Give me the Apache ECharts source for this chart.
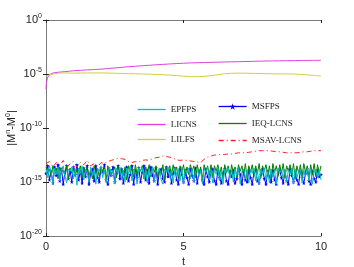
<!DOCTYPE html>
<html><head><meta charset="utf-8">
<script src="https://cdn.jsdelivr.net/npm/echarts@6/dist/echarts.min.js"></script>
<style>html,body{margin:0;padding:0;background:#fff}#c{width:354px;height:267px}</style>
</head><body><div id="c"></div>
<script>
// sample times for the dense noisy series
const tDense = [0,0.0625,0.125,0.1875,0.25,0.3125,0.375,0.4375,0.5,0.5625,0.625,0.6875,0.75,0.8125,0.875,0.9375,
1,1.0625,1.125,1.1875,1.25,1.3125,1.375,1.4375,1.5,1.5625,1.625,1.6875,1.75,1.8125,1.875,1.9375,
2,2.0625,2.125,2.1875,2.25,2.3125,2.375,2.4375,2.5,2.5625,2.625,2.6875,2.75,2.8125,2.875,2.9375,
3,3.0625,3.125,3.1875,3.25,3.3125,3.375,3.4375,3.5,3.5625,3.625,3.6875,3.75,3.8125,3.875,3.9375,
4,4.0625,4.125,4.1875,4.25,4.3125,4.375,4.4375,4.5,4.5625,4.625,4.6875,4.75,4.8125,4.875,4.9375,
5,5.0625,5.125,5.1875,5.25,5.3125,5.375,5.4375,5.5,5.5625,5.625,5.6875,5.75,5.8125,5.875,5.9375,
6,6.0625,6.125,6.1875,6.25,6.3125,6.375,6.4375,6.5,6.5625,6.625,6.6875,6.75,6.8125,6.875,6.9375,
7,7.0625,7.125,7.1875,7.25,7.3125,7.375,7.4375,7.5,7.5625,7.625,7.6875,7.75,7.8125,7.875,7.9375,
8,8.0625,8.125,8.1875,8.25,8.3125,8.375,8.4375,8.5,8.5625,8.625,8.6875,8.75,8.8125,8.875,8.9375,
9,9.0625,9.125,9.1875,9.25,9.3125,9.375,9.4375,9.5,9.5625,9.625,9.6875,9.75,9.8125,9.875,9.9375,10];
// sample times for the dash-dot series
const tNoise = [0,0.125,0.25,0.375,0.5,0.625,0.75,0.875,1,1.125,1.25,1.375,1.5,1.625,1.75,1.875,2,2.125,2.25,2.375,2.5,2.625,2.75,2.875,3,3.125,3.25,3.375,3.5,3.625,3.75,3.875,4,4.125,4.25,4.375,4.5,4.625,4.75,4.875,5,5.125,5.25,5.375,5.5,5.625,5.75,5.875,6,6.125,6.25,6.375,6.5,6.625,6.75,6.875,7,7.125,7.25,7.375,7.5,7.625,7.75,7.875,8,8.125,8.25,8.375,8.5,8.625,8.75,8.875,9,9.125,9.25,9.375,9.5,9.625,9.75,9.875,10];
// exponents (log10) of |M^n - M^0|
const msfpsExp = [
-14.2,-13.5,-14.8,-14.0,-15.1,-13.6,-14.4,-13.4,-14.9,-13.8,-15.2,-14.1,-13.5,-14.7,-13.9,-15.0,-13.6,-14.3,-13.4,-14.8,
-14.0,-15.1,-13.7,-14.5,-13.5,-15.2,-14.2,-13.8,-14.9,-13.5,-14.6,-15.0,-13.7,-14.1,-13.4,-14.8,-15.2,-13.9,-14.4,-13.6,
-15.0,-14.2,-13.5,-14.7,-13.8,-15.1,-14.0,-13.6,-14.9,-14.3,-13.5,-15.2,-13.9,-14.6,-13.7,-15.0,-14.1,-13.5,-14.8,-13.9,
-15.1,-13.6,-14.4,-14.9,-13.7,-15.2,-14.0,-13.8,-14.7,-15.0,-13.6,-14.5,-13.9,-15.1,-14.2,-13.7,-14.8,-15.2,-13.8,-14.3,
-15.0,-13.9,-14.6,-15.2,-13.8,-14.4,-14.9,-13.7,-15.1,-14.1,-13.9,-14.8,-15.2,-13.8,-14.5,-15.0,-14.0,-13.8,-14.9,-15.2,
-13.9,-14.6,-15.1,-14.2,-13.8,-14.9,-15.2,-14.0,-14.5,-13.9,-15.1,-14.7,-13.8,-14.3,-15.2,-14.0,-14.8,-15.0,-13.9,-14.6,
-15.2,-14.1,-13.9,-14.9,-15.1,-14.3,-13.8,-14.7,-15.2,-14.0,-14.5,-15.0,-13.9,-14.8,-15.2,-14.2,-13.9,-14.6,-15.1,-14.0,
-14.9,-15.2,-13.8,-14.4,-15.0,-14.1,-14.8,-15.2,-13.9,-14.6,-15.1,-14.2,-13.8,-14.9,-15.2,-14.0,-14.7,-15.0,-13.9,-14.5,
-14.3];
const epfpsExp = [
-13.8,-14.6,-13.5,-14.1,-15.2,-13.7,-14.3,-13.6,-14.9,-13.9,-13.5,-14.4,-15.1,-13.8,-14.0,-13.6,-14.7,-13.9,-15.3,-13.7,
-14.2,-13.5,-14.8,-13.8,-14.1,-15.0,-13.6,-14.4,-13.9,-15.2,-13.7,-14.0,-13.5,-14.6,-13.8,-15.1,-14.2,-13.6,-14.5,-13.9,
-15.2,-13.7,-14.1,-13.6,-14.8,-13.9,-15.0,-13.7,-14.3,-13.5,-14.9,-13.8,-14.2,-15.2,-13.7,-14.0,-13.6,-14.7,-13.9,-15.1,
-13.8,-14.4,-13.6,-15.0,-13.9,-14.2,-13.7,-14.8,-15.2,-13.8,-14.1,-13.6,-14.6,-13.9,-15.1,-13.7,-14.3,-13.8,-14.9,-13.6,
-15.2,-13.9,-14.2,-13.7,-14.7,-13.8,-15.0,-14.0,-13.7,-14.5,-13.9,-15.2,-13.8,-14.1,-13.6,-14.8,-13.9,-15.1,-13.8,-14.3,
-13.7,-14.9,-13.9,-15.2,-13.8,-14.2,-13.7,-14.6,-13.9,-15.0,-13.8,-14.4,-13.7,-15.2,-14.0,-13.8,-14.7,-13.9,-15.1,-13.8,
-14.2,-13.7,-14.9,-13.9,-15.2,-13.8,-14.3,-13.7,-14.8,-14.0,-15.1,-13.8,-14.5,-13.9,-15.2,-13.7,-14.1,-13.9,-14.7,-13.8,
-15.0,-13.9,-14.3,-13.7,-15.2,-13.8,-14.6,-14.0,-13.8,-15.1,-13.9,-14.4,-13.7,-14.9,-13.8,-15.2,-14.1,-13.8,-14.6,-13.9,
-14.8];
const ieqExp = [
-13.6,-14.2,-13.8,-14.5,-13.5,-14.0,-13.7,-14.7,-13.6,-14.1,-13.9,-14.4,-13.5,-14.8,-13.7,-14.2,-13.6,-14.5,-13.8,-14.0,
-13.5,-14.6,-13.7,-14.1,-13.6,-14.4,-13.9,-14.7,-13.5,-14.2,-13.8,-14.5,-13.6,-14.0,-13.7,-14.8,-13.5,-14.3,-13.8,-14.1,
-13.6,-14.6,-13.5,-14.2,-13.7,-14.4,-13.6,-14.8,-13.5,-14.1,-13.7,-14.5,-13.4,-14.3,-13.6,-14.0,-13.5,-14.7,-13.6,-14.2,
-13.4,-14.5,-13.6,-14.1,-13.5,-14.6,-13.7,-14.3,-13.4,-14.8,-13.6,-14.0,-13.5,-14.4,-13.4,-14.2,-13.6,-14.7,-13.5,-14.1,
-13.4,-14.5,-13.6,-14.3,-13.4,-14.0,-13.5,-14.6,-13.4,-14.2,-13.6,-14.8,-13.4,-14.1,-13.5,-14.4,-13.4,-14.6,-13.5,-14.0,
-13.4,-14.3,-13.6,-14.7,-13.4,-14.1,-13.5,-14.5,-13.4,-14.2,-13.6,-14.6,-13.4,-14.0,-13.5,-14.4,-13.3,-14.7,-13.5,-14.1,
-13.4,-14.5,-13.5,-14.2,-13.3,-14.6,-13.5,-14.0,-13.4,-14.4,-13.5,-14.7,-13.3,-14.1,-13.5,-14.5,-13.4,-14.2,-13.3,-14.6,
-13.5,-14.0,-13.4,-14.4,-13.3,-14.7,-13.5,-14.2,-13.4,-14.5,-13.3,-14.1,-13.5,-14.6,-13.4,-14.3,-13.3,-14.5,-13.4,-14.2,
-13.5];
const msavExp = [-13.3,-13.1,-13.6,-13.2,-13.5,-13.0,-13.7,-13.3,-13.1,-13.6,
-13.2,-13.4,-13.0,-13.5,-13.3,-13.6,-13.2,-13.3,-13.1,-13.0,
-12.9,-12.8,-12.85,-12.9,-13.1,-13.2,-13.1,-13.15,-13.0,-12.95,
-13.0,-12.85,-12.75,-12.7,-12.6,-12.65,-12.7,-12.8,-12.95,-13.0,
-12.95,-13.0,-13.05,-13.1,-13.15,-13.2,-12.9,-12.7,-12.6,-12.5,
-12.5,-12.45,-12.45,-12.4,-12.4,-12.35,-12.3,-12.3,-12.3,-12.25,
-12.2,-12.15,-12.1,-12.1,-12.1,-12.1,-12.15,-12.2,-12.2,-12.25,
-12.3,-12.3,-12.3,-12.3,-12.25,-12.2,-12.2,-12.15,-12.1,-12.1,-12.1];
// smooth series
const tLicns = [0,0.01,0.02,0.05,0.1,0.2,0.4,0.7,1,1.5,2,3,4,5,6,7,8,9,10];
const licnsExp = [-6.4,-6.0,-5.8,-5.4,-5.15,-4.95,-4.85,-4.78,-4.7,-4.62,-4.55,-4.33,-4.15,-4.0,-3.92,-3.86,-3.8,-3.76,-3.73];
const tLilfs = [0,0.3,0.6,1,1.5,2,2.5,3,3.5,4,4.5,5,5.5,6,6.5,7,7.5,8,8.5,9,9.5,10];
const lilfsExp = [-5.2,-4.98,-4.9,-4.92,-4.9,-4.9,-4.93,-4.97,-5.0,-5.04,-5.1,-5.2,-5.25,-5.15,-4.98,-4.92,-4.94,-4.97,-4.99,-5.0,-5.08,-5.19];

function pairs(ts, es){ return ts.map((t,i)=>[t, Math.pow(10, es[i])]); }

const star = 'path://M0,-10L2.2,-3L9.5,-3L3.6,1.2L5.9,8.1L0,3.8L-5.9,8.1L-3.6,1.2L-9.5,-3L-2.2,-3Z';
const axisCol = '#7a7a7a';
const serifText = {fontFamily:'Liberation Serif', fontSize:9, color:'#222'};
const noSym = {opacity:0};
const legLine = {width:1.3};

const chart = echarts.init(document.getElementById('c'));
chart.setOption({
  animation:false,
  backgroundColor:'#fff',
  grid:{left:46, right:33, top:20, bottom:31, outerBoundsMode:'none', containLabel:false},
  legend:[
    {data:[{name:'EPFPS', itemStyle:noSym},{name:'LICNS', itemStyle:noSym},{name:'LILFS', itemStyle:noSym}],
     orient:'vertical', left:137, top:105, itemWidth:28, itemHeight:8, itemGap:6, textStyle:serifText, padding:0, lineStyle:legLine},
    {data:['MSFPS',{name:'IEQ-LCNS', itemStyle:noSym},{name:'MSAV-LCNS', itemStyle:noSym}],
     orient:'vertical', left:218, top:102, itemWidth:28, itemHeight:8, itemGap:8, textStyle:serifText, padding:0, lineStyle:legLine}
  ],
  xAxis:[
    {type:'value', min:0, max:10, interval:5, name:'t', nameLocation:'middle', nameGap:19,
     nameTextStyle:{fontFamily:'Liberation Sans', fontSize:11, color:'#222'},
     axisLine:{lineStyle:{color:axisCol}}, axisTick:{inside:true, length:3, lineStyle:{color:'#222'}},
     axisLabel:{fontFamily:'Liberation Sans', fontSize:11, color:'#222', margin:5}, splitLine:{show:false}},
    {type:'value', position:'top', min:0, max:10, interval:5,
     axisLine:{show:true, lineStyle:{color:axisCol}}, axisTick:{inside:true, length:3, lineStyle:{color:'#222'}},
     axisLabel:{show:false}, splitLine:{show:false}}
  ],
  yAxis:[
    {type:'log', logBase:10, min:1e-20, max:1, interval:5,
     name:'|M{s|n}-M{s|0}|', nameLocation:'middle', nameGap:27, nameMoveOverlap:false,
     nameTextStyle:{fontFamily:'Liberation Sans', fontSize:11, color:'#222', rich:{s:{fontSize:7, verticalAlign:'bottom', padding:[0,0,7,0], fontFamily:'Liberation Sans', color:'#222'}}},
     axisLine:{show:true, lineStyle:{color:axisCol}}, axisTick:{inside:true, length:3, lineStyle:{color:'#222'}},
     splitLine:{show:false},
     axisLabel:{margin:4, formatter:function(v){ return '{b|10}{s|'+Math.round(Math.log10(v))+'}'; },
       rich:{b:{fontFamily:'Liberation Sans', fontSize:11, color:'#222'}, s:{fontFamily:'Liberation Sans', fontSize:7, color:'#222', verticalAlign:'bottom', padding:[0,0,8,0]}}}},
    {type:'log', logBase:10, min:1e-20, max:1, interval:5, position:'right',
     axisLine:{show:true, lineStyle:{color:axisCol}}, axisTick:{inside:true, length:3, lineStyle:{color:'#222'}},
     axisLabel:{show:false}, splitLine:{show:false}}
  ],
  series:[
    {name:'MSFPS', type:'line', data:pairs(tDense, msfpsExp), symbol:star, symbolSize:4, showAllSymbol:true,
     itemStyle:{color:'#0000ff'}, lineStyle:{color:'#0000ff', width:1}, z:2},
    {name:'IEQ-LCNS', type:'line', data:pairs(tDense, ieqExp), symbol:'none', lineStyle:{color:'#008000', width:1}, itemStyle:{color:'#008000'}, z:3},
    {name:'EPFPS', type:'line', data:pairs(tDense, epfpsExp), symbol:'none', lineStyle:{color:'#00c0c0', width:1}, itemStyle:{color:'#00c0c0'}, z:4},
    {name:'MSAV-LCNS', type:'line', data:pairs(tNoise, msavExp), symbol:'none', lineStyle:{color:'#ff2020', width:1, type:[5,3,1,3]}, itemStyle:{color:'#ff2020'}, z:5},
    {name:'LICNS', type:'line', data:pairs(tLicns, licnsExp), symbol:'none', smooth:0.3, lineStyle:{color:'#e040e0', width:1}, itemStyle:{color:'#e040e0'}, z:6},
    {name:'LILFS', type:'line', data:pairs(tLilfs, lilfsExp), symbol:'none', smooth:0.3, lineStyle:{color:'#d0d040', width:1}, itemStyle:{color:'#d0d040'}, z:6}
  ]
});
</script></body></html>
